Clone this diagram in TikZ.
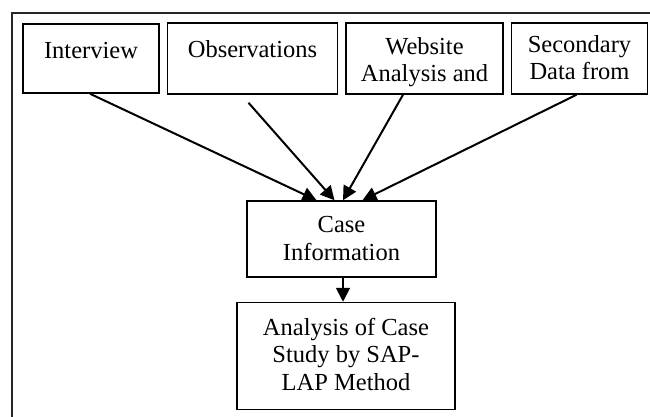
\documentclass[tikz,border=0pt]{standalone}
\usepackage{fontspec}
\setmainfont{Liberation Serif}
\usepackage{tikz}
\usetikzlibrary{arrows.meta, positioning, calc}
\tikzstyle{source} = [rectangle, minimum width=136pt, minimum height=71pt, inner sep=0pt, draw=black, line width=1.5pt]
\tikzstyle{process} = [rectangle, minimum width=189pt, minimum height=76pt, inner sep=0pt, draw=black, line width=1.5pt]
\tikzstyle{caption} = [anchor=north, inner sep=0pt, align=center, font=\fontsize{24.5}{27.5}\selectfont, execute at begin node=\strut]
\tikzstyle{arrow} = [line width=2pt, -{Triangle[length=14pt, width=14pt]}]

\begin{document}
\begin{tikzpicture}[x=1pt, y=-1pt]
    \useasboundingbox (0,0) rectangle (650,417);
    % Frame
    \draw [line width=2.5pt, black!85] (650,13) -- (12,13) -- (12,417);

    % Data Sources
    \node (interview) [source, minimum height=69pt] at (91,58.5) {};
    \node (observations) [source, minimum width=170pt, right=7pt of interview] {};
    \node (website) [source, minimum width=157pt, right=7pt of observations] {};
    \node (secondary) [source, right=7pt of website] {};

    % Processing Steps
    \node (case) [process] at (341.5,239) {};
    \node (analysis) [process, minimum width=218pt, minimum height=107pt, below=24pt of case, xshift=4.5pt] {};

    % Texts
    \node (interviewtxt) [caption] at ([yshift=-15.5pt]interview.north) {Interview};
    \node (observationstxt) [caption] at ([yshift=-15.5pt]observations.north) {Observations};
    \node (websitetxt) [caption] at ([yshift=-15pt]website.north) {Website\\Analysis and};
    \node (secondarytxt) [caption] at ([yshift=-13pt]secondary.north) {Secondary\\Data from};
    \node (casetxt) [caption] at ([yshift=-16pt]case.north) {Case\\Information};
    \node (analysistxt) [caption] at ([yshift=-16pt]analysis.north) {Analysis of Case\\Study by SAP-\\LAP Method};

    % Arrows
    \coordinate (obsstart) at ([xshift=-4pt, yshift=-8pt]observations.south);
    \draw [arrow] ([xshift=-1pt]interview.south) -- ([xshift=-25pt]case.north);
    \draw [arrow] (obsstart) -- ([xshift=-7pt]case.north);
    \draw [arrow] ([xshift=-21.5pt]website.south) -- ([xshift=1.5pt]case.north);
    \draw [arrow] ([xshift=-3pt]secondary.south) -- ([xshift=21pt]case.north);
    \draw [arrow] ([xshift=1.5pt]case.south) -- ([xshift=1.5pt]case.south |- analysis.north);
\end{tikzpicture}
\end{document}
